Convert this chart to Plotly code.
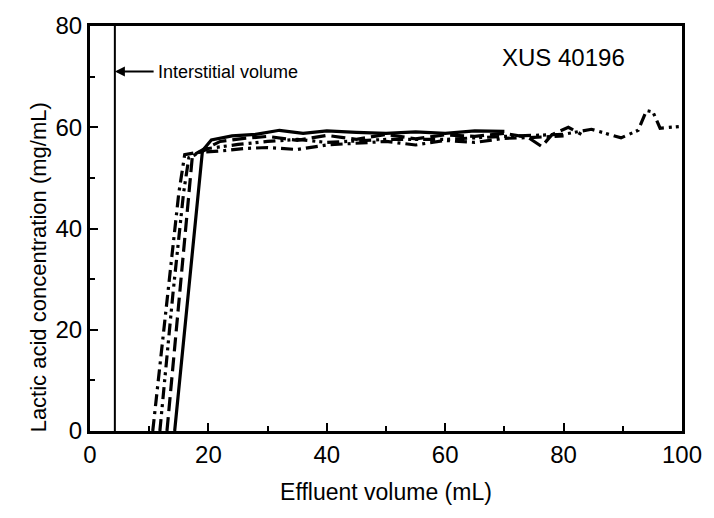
import plotly.graph_objects as go

# Series 1 (solid)
s1_x = [14.3, 16.0, 18.0, 19.0, 20.5, 24, 28, 32, 36, 40, 45, 50, 55, 60, 65, 70]
s1_y = [0, 20, 45, 55.4, 57.5, 58.3, 58.6, 59.4, 58.8, 59.3, 59.0, 58.8, 59.1, 58.8, 59.3, 59.2]
# Series 2 (long dash)
s2_x = [13.0, 15.0, 16.5, 17.3, 19, 22, 26, 30, 35, 40, 45, 50, 55, 60, 65, 70, 74, 76.3, 78, 80.8, 83]
s2_y = [0, 25, 45, 54.4, 55.5, 57.2, 57.8, 58.2, 57.4, 58.4, 57.6, 58.6, 57.7, 58.5, 58.2, 58.8, 58.0, 56.2, 58.5, 60.0, 58.6]
# Series 3 (dash-dot)
s3_x = [10.6, 13.0, 15.0, 16.0, 18, 22, 26, 30, 35, 40, 45, 50, 55, 60, 65, 70, 75, 80]
s3_y = [0, 25, 47, 54.6, 55.0, 55.3, 55.8, 56.0, 55.6, 56.5, 56.8, 57.2, 56.5, 57.4, 57.0, 57.8, 58.0, 58.3]
# Series 4 (dash-dot-dot)
s4_x = [11.8, 14.0, 15.8, 16.7, 20, 25, 30, 35, 40, 50, 60, 70, 80, 84.7, 89.7, 92.6, 94.0, 95.1, 96.3, 100]
s4_y = [0, 27, 47, 54.0, 55.8, 56.6, 57.2, 57.6, 57.0, 57.6, 57.6, 58.2, 58.6, 59.6, 57.9, 59.4, 63.3, 63.0, 59.8, 60.2]

interstitial_x = 4.2
x_ticks = [0, 20, 40, 60, 80, 100]
y_ticks = [0, 20, 40, 60, 80]

fig = go.Figure()
styles = [
    (s1_x, s1_y, "solid"),
    (s2_x, s2_y, "14px,6px"),
    (s3_x, s3_y, "12px,5px,3px,5px"),
    (s4_x, s4_y, "12px,5px,3px,4px,3px,5px"),
]
for xs, ys, dash in styles:
    fig.add_trace(go.Scatter(x=xs, y=ys, mode="lines",
                             line=dict(color="black", width=3.2, dash=dash),
                             showlegend=False))

fig.add_shape(type="line", x0=interstitial_x, x1=interstitial_x, y0=0, y1=80,
              xref="x", yref="y", line=dict(color="black", width=2))

fig.add_annotation(x=interstitial_x, y=71, ax=11.0, ay=71, xref="x", yref="y",
                   axref="x", ayref="y", showarrow=True, arrowhead=2,
                   arrowsize=1, arrowwidth=2, arrowcolor="black", text="")
fig.add_annotation(x=11.1, y=71, xref="x", yref="y", xanchor="left",
                   showarrow=False, text="Interstitial volume",
                   font=dict(family="Liberation Sans Narrow, Arial Narrow, Arial", size=18, color="black"))
fig.add_annotation(x=80, y=73.8, xref="x", yref="y", showarrow=False,
                   text="XUS 40196",
                   font=dict(family="Liberation Sans, Arial", size=24, color="black"))
fig.add_annotation(x=-0.11, y=0.405, xref="paper", yref="paper", showarrow=False,
                   textangle=-90, text="Lactic acid concentration (mg/mL)",
                   font=dict(family="Liberation Sans, Arial", size=22, color="black"))

axis_common = dict(showline=True, linecolor="black", linewidth=3, mirror=True,
                   ticks="inside", ticklen=8, tickwidth=2, tickcolor="black",
                   showgrid=False, zeroline=False,
                   tickfont=dict(family="Liberation Sans, Arial", size=24, color="black"),
                   minor=dict(ticks="inside", ticklen=5, tickwidth=2, tickcolor="black", dtick=10))

fig.update_xaxes(range=[0, 100], tickvals=x_ticks, **axis_common,
                 title=dict(text="Effluent volume (mL)", standoff=18,
                            font=dict(family="Liberation Sans, Arial", size=23, color="black")))
fig.update_yaxes(range=[0, 80], tickvals=y_ticks, **axis_common)

fig.update_layout(width=714, height=518, margin=dict(l=90, r=31, t=15, b=87),
                  plot_bgcolor="white", paper_bgcolor="white")

fig.write_html("out.html")
